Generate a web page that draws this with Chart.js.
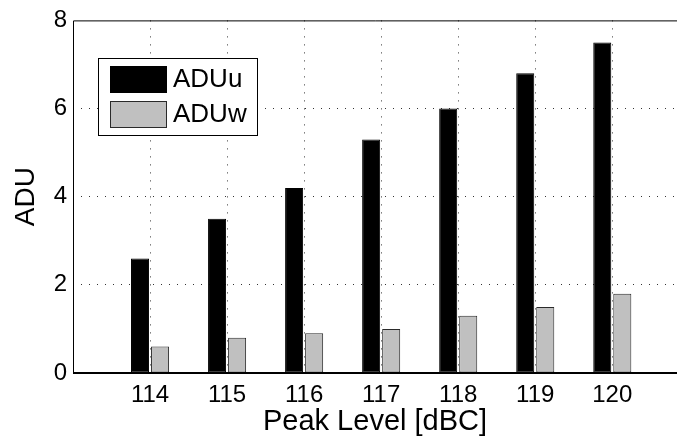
<!DOCTYPE html>
<html>
<head>
<meta charset="utf-8">
<script src="https://cdn.jsdelivr.net/npm/chart.js"></script>
<style>
  html, body { margin: 0; padding: 0; background: #fff; overflow: hidden; }
  #wrap { width: 677px; height: 444px; }
</style>
</head>
<body>
<div id="wrap"><canvas id="aduChart"></canvas></div>
<script>

// data
const peakLevels = [114, 115, 116, 117, 118, 119, 120];
const aduU = [2.6, 3.5, 4.2, 5.3, 6.0, 6.8, 7.5];
const aduW = [0.6, 0.8, 0.9, 1.0, 1.3, 1.5, 1.8];
const yTicks = [0, 2, 4, 6, 8];

const FONT = '"Liberation Sans", Arial, Helvetica, sans-serif';

// axes lines, like matlab (right side is cut off in the picture)
const framePlugin = {
  id: 'frame',
  afterDatasetsDraw(chart) {
    const { ctx, chartArea: a } = chart;
    ctx.save();
    // no right-hand edge in the picture
    ctx.fillStyle = '#fff';
    ctx.fillRect(a.right - 2, a.top + 1, 2, a.bottom - a.top - 2);
    ctx.strokeStyle = '#000';
    ctx.lineWidth = 1;
    ctx.beginPath();
    ctx.moveTo(a.right, a.top + 0.5);
    ctx.lineTo(a.left + 0.5, a.top + 0.5);
    ctx.lineTo(a.left + 0.5, a.bottom);
    ctx.stroke();
    ctx.lineWidth = 2;
    ctx.beginPath();
    ctx.moveTo(a.left, a.bottom);
    ctx.lineTo(a.right, a.bottom);
    ctx.stroke();
    ctx.restore();
  }
};

// legend box sitting inside the plot (top left)
const boxLegend = {
  id: 'boxLegend',
  afterDraw(chart) {
    const ctx = chart.ctx;
    const x = 98, y = 58, w = 159, h = 77;
    ctx.save();
    ctx.fillStyle = '#fff';
    ctx.fillRect(x, y, w, h);
    ctx.strokeStyle = '#000';
    ctx.lineWidth = 1;
    ctx.strokeRect(x + 0.5, y + 0.5, w, h);
    ctx.font = '26px ' + FONT;
    ctx.textBaseline = 'middle';
    chart.data.datasets.forEach(function(ds, i) {
      const sy = 66 + i * 35;
      ctx.fillStyle = ds.backgroundColor;
      ctx.fillRect(110, sy, 57, 27);
      ctx.strokeStyle = ds.borderColor;
      ctx.strokeRect(110.5, sy + 0.5, 56, 26);
      ctx.fillStyle = '#000';
      ctx.fillText(ds.label, 173, sy + 14);
    });
    ctx.restore();
  }
};

new Chart(document.getElementById('aduChart'), {
  type: 'bar',
  data: {
    datasets: [
      {
        label: 'ADUu',
        data: peakLevels.map((p, i) => ({ x: p, y: aduU[i] })),
        backgroundColor: '#000000',
        borderColor: '#000000',
        borderWidth: 1,
        borderSkipped: false
      },
      {
        label: 'ADUw',
        data: peakLevels.map((p, i) => ({ x: p, y: aduW[i] })),
        backgroundColor: '#c0c0c0',
        borderColor: '#2a2a2a',
        borderWidth: 1,
        borderSkipped: false
      }
    ]
  },
  options: {
    responsive: true,
    maintainAspectRatio: false,
    animation: false,
    categoryPercentage: 0.52,
    barPercentage: 0.9,
    layout: { padding: { top: 14, right: 0, left: 0, bottom: 0 } },
    plugins: {
      legend: { display: false },
      tooltip: { enabled: false }
    },
    scales: {
      x: {
        type: 'linear',
        offset: false,
        min: peakLevels[0] - 1,
        max: peakLevels[0] - 1 + 7.84,  // axes run on past the right edge in the picture
        afterFit: function(s) { s.height = 71; s.paddingRight = 0; s.paddingLeft = 0; },
        afterBuildTicks: function(s) { s.ticks = peakLevels.map(v => ({ value: v })); },
        ticks: {
          autoSkip: false,
          maxRotation: 0,
          padding: 8,
          color: '#000',
          font: { family: FONT, size: 24 }
        },
        grid: {
          offset: false,
          drawTicks: false,
          lineWidth: 1,
          color: function(c) {
            return peakLevels.includes(c.tick && c.tick.value) ? '#333' : 'rgba(0,0,0,0)';
          }
        },
        border: { display: false, dash: [1, 7] },
        title: {
          display: true,
          text: 'Peak Level [dBC]',
          color: '#000',
          font: { family: FONT, size: 29 },
          padding: 5
        }
      },
      y: {
        min: yTicks[0],
        max: yTicks[yTicks.length - 1],
        afterFit: function(s) { s.width = 73; },
        afterBuildTicks: function(s) { s.ticks = yTicks.map(v => ({ value: v })); },
        ticks: {
          padding: 6,
          color: '#000',
          font: { family: FONT, size: 24 }
        },
        grid: {
          drawTicks: false,
          lineWidth: 1,
          color: function(c) {
            const v = c.tick && c.tick.value;
            return (v === yTicks[0] || v === yTicks[yTicks.length - 1]) ? 'rgba(0,0,0,0)' : '#333';
          }
        },
        border: { display: false, dash: [1, 7] },
        title: {
          display: true,
          text: 'ADU',
          color: '#000',
          font: { family: FONT, size: 28 },
          padding: 9
        }
      }
    }
  },
  plugins: [framePlugin, boxLegend]
});

</script>
</body>
</html>
